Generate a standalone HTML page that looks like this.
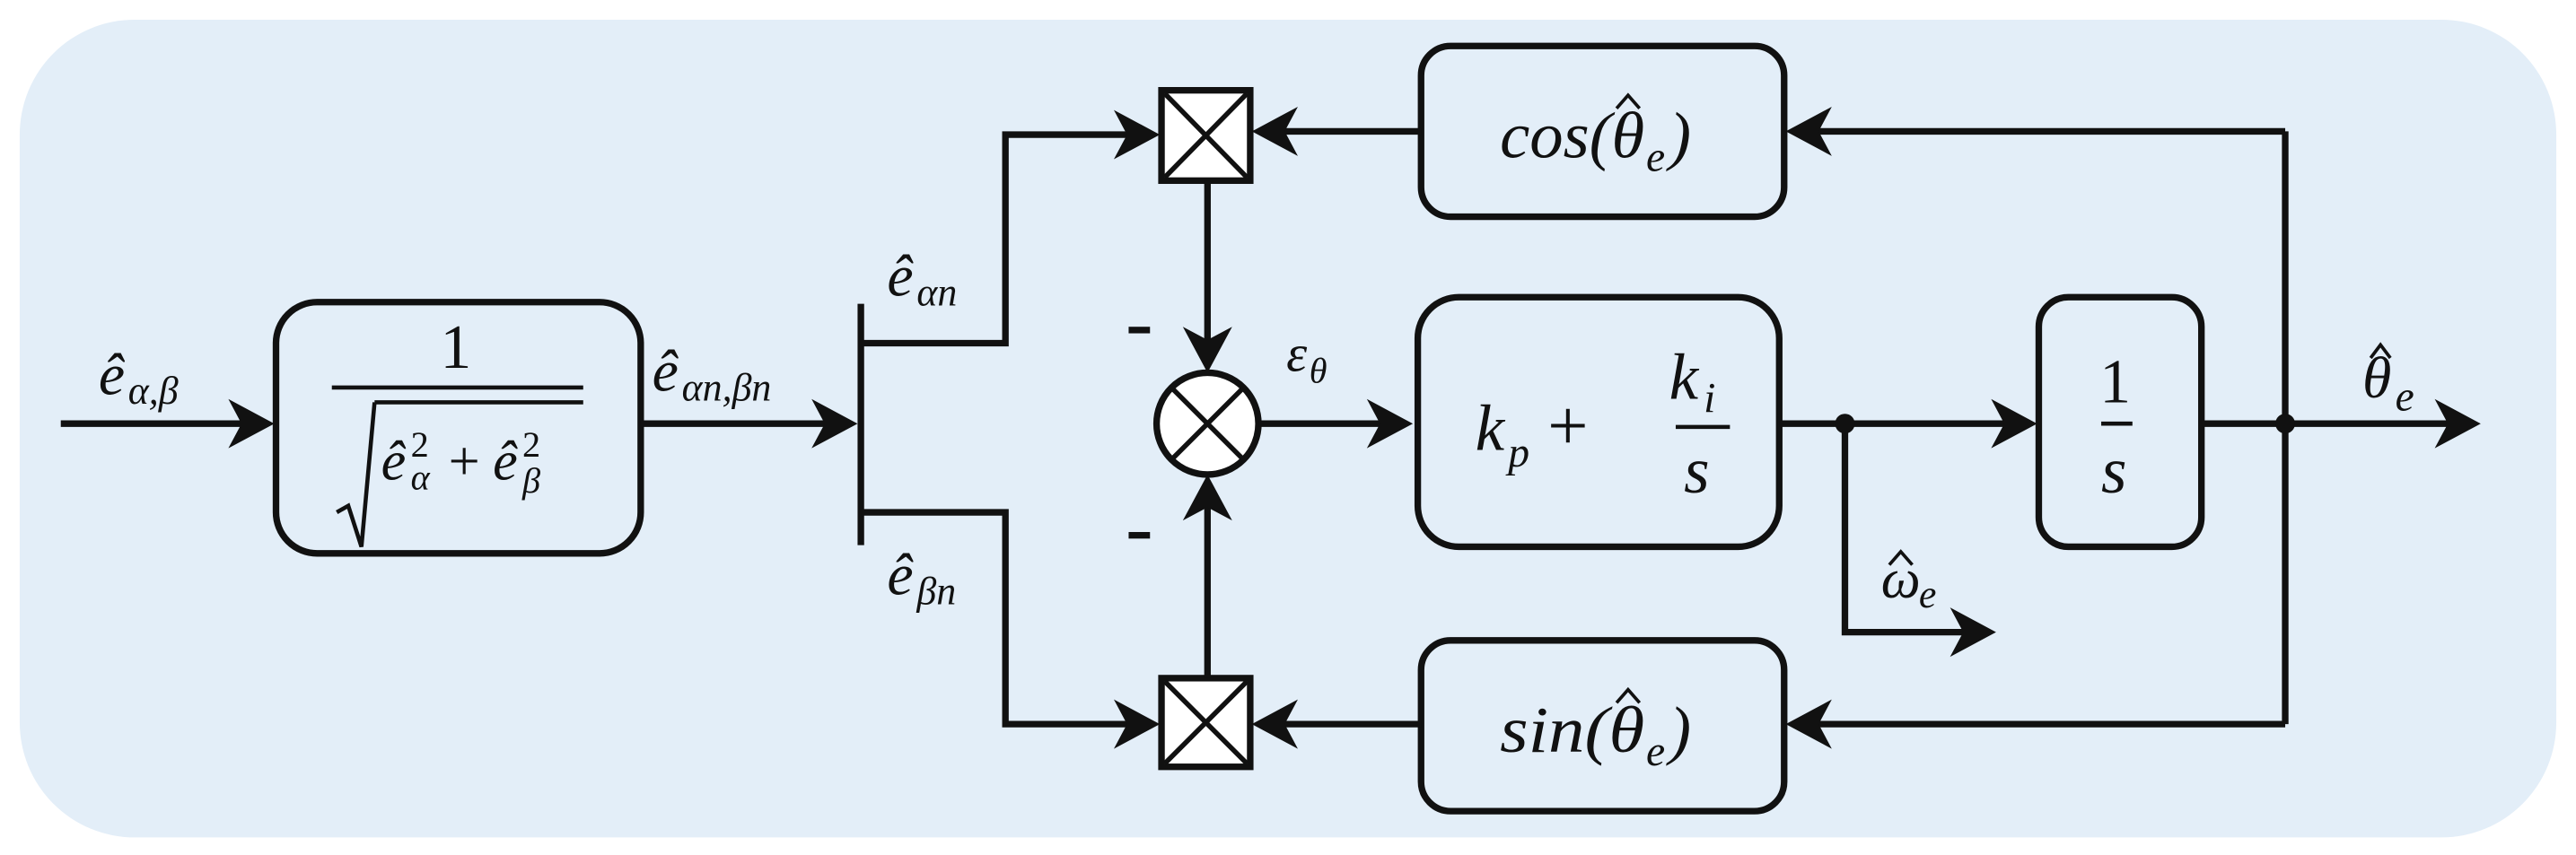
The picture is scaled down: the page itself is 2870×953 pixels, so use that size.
<!DOCTYPE html>
<html><head><meta charset="utf-8"><style>
html,body{margin:0;padding:0;background:#fff}
svg{display:block}
text{font-family:"Liberation Serif",serif;font-style:italic;fill:#111}
.n{font-style:normal}
</style></head><body>
<svg width="2870" height="953" viewBox="0 0 1568 520.7" preserveAspectRatio="none" xmlns="http://www.w3.org/2000/svg">
<rect x="12" y="12" width="1544" height="498" rx="70" fill="#e3eef8"/>
<g fill="none" stroke="#111" stroke-width="4">
<rect x="168" y="184" width="222" height="153" rx="25"/>
<rect x="863" y="181" width="220" height="152" rx="25"/>
<rect x="1241" y="181" width="99" height="152" rx="18"/>
<rect x="865" y="28" width="221" height="104" rx="18"/>
<rect x="865" y="390" width="221" height="104" rx="18"/>
<rect x="707" y="55" width="54" height="55" fill="#fff"/>
<rect x="707" y="413" width="54" height="54" fill="#fff"/>
<path d="M709 57 L759 108 M759 57 L709 108 M709 415 L759 465 M759 415 L709 465" stroke-width="3"/>
<circle cx="735" cy="258" r="31" fill="#fff"/>
<path d="M713 236 L757 280 M757 236 L713 280" stroke-width="3"/>
<path d="M37 258 H160 M390 258 H515 M524 185 V332 M524 209 H612 V82 H700 M524 312 H612 V441 H700"/>
<path d="M735 110 V220 M735 413 V296 M766 258 H853 M1083 258 H1233 M1123 258 V385 H1208 M1340 258 H1503"/>
<path d="M1391 80 V441 M1391 80 H1094 M865 80 H769 M1391 441 H1094 M865 441 H769"/>
<path d="M202 236 H355 M228 245 H355 M205 312 L212 308 L220 333 L228 245" stroke-width="2.5"/>
<path d="M1279 258 H1298" stroke-width="2.5"/>
<path d="M1020 260 H1053" stroke-width="2.5"/>
<path d="M984 66 L991 58 L998 66 M984 428 L991 420 L998 428 M1443 218 L1449 210 L1455 218 M1150 344 L1157 336 L1164 344" stroke-width="2"/>
</g>
<g fill="#111">
<circle cx="1123" cy="258" r="6"/>
<circle cx="1391" cy="258" r="6"/>
<rect x="687" y="199" width="13" height="4"/>
<rect x="687" y="324" width="13" height="4"/>
<g transform="translate(167,258)"><path d="M0 0L-28 -15L-20 0L-28 15Z"/></g>
<g transform="translate(522,258)"><path d="M0 0L-28 -15L-20 0L-28 15Z"/></g>
<g transform="translate(706,82)"><path d="M0 0L-28 -15L-20 0L-28 15Z"/></g>
<g transform="translate(706,441)"><path d="M0 0L-28 -15L-20 0L-28 15Z"/></g>
<g transform="translate(735,227) rotate(90)"><path d="M0 0L-28 -15L-20 0L-28 15Z"/></g>
<g transform="translate(735,289) rotate(-90)"><path d="M0 0L-28 -15L-20 0L-28 15Z"/></g>
<g transform="translate(860,258)"><path d="M0 0L-28 -15L-20 0L-28 15Z"/></g>
<g transform="translate(1240,258)"><path d="M0 0L-28 -15L-20 0L-28 15Z"/></g>
<g transform="translate(1215,385)"><path d="M0 0L-28 -15L-20 0L-28 15Z"/></g>
<g transform="translate(1510,258)"><path d="M0 0L-28 -15L-20 0L-28 15Z"/></g>
<g transform="translate(1087,80) rotate(180)"><path d="M0 0L-28 -15L-20 0L-28 15Z"/></g>
<g transform="translate(762,80) rotate(180)"><path d="M0 0L-28 -15L-20 0L-28 15Z"/></g>
<g transform="translate(1087,441) rotate(180)"><path d="M0 0L-28 -15L-20 0L-28 15Z"/></g>
<g transform="translate(762,441) rotate(180)"><path d="M0 0L-28 -15L-20 0L-28 15Z"/></g>
</g>
<text x="60" y="240" font-size="36">ê</text><text x="78" y="246" font-size="24">α,β</text>
<text x="397" y="238" font-size="36">ê</text><text x="415" y="244" font-size="24">αn,βn</text>
<text x="540" y="180" font-size="36">ê</text><text x="558" y="186" font-size="24">αn</text>
<text x="540" y="362" font-size="36">ê</text><text x="558" y="368" font-size="24">βn</text>
<text x="268" y="224" font-size="38" class="n">1</text>
<text x="232" y="292" font-size="34">ê</text><text x="250" y="278" font-size="22" class="n">2</text><text x="250" y="298" font-size="22">α</text>
<text x="273" y="292" font-size="34" class="n">+</text>
<text x="300" y="292" font-size="34">ê</text><text x="318" y="278" font-size="22" class="n">2</text><text x="318" y="300" font-size="22">β</text>
<text x="783" y="226" font-size="32">ε</text><text x="797" y="233" font-size="22">θ</text>
<text x="898" y="274" font-size="40">k</text><text x="918" y="284" font-size="26">p</text>
<text x="942" y="274" font-size="44" class="n">+</text>
<text x="1016" y="243" font-size="40">k</text><text x="1037" y="251" font-size="26">i</text>
<text x="1025" y="300" font-size="40">s</text>
<text x="1278" y="245" font-size="38" class="n">1</text>
<text x="1279" y="300" font-size="40">s</text>
<text x="913" y="96" font-size="40" textLength="88" lengthAdjust="spacingAndGlyphs">cos(θ</text><text x="1002" y="104" font-size="26">e</text><text x="1016" y="96" font-size="40">)</text>
<text x="913" y="458" font-size="40" textLength="88" lengthAdjust="spacingAndGlyphs">sin(θ</text><text x="1002" y="466" font-size="26">e</text><text x="1016" y="458" font-size="40">)</text>
<text x="1438" y="242" font-size="36">θ</text><text x="1458" y="250" font-size="26">e</text>
<text x="1145" y="364" font-size="34">ω</text><text x="1168" y="370" font-size="24">e</text>
</svg>
</body></html>
